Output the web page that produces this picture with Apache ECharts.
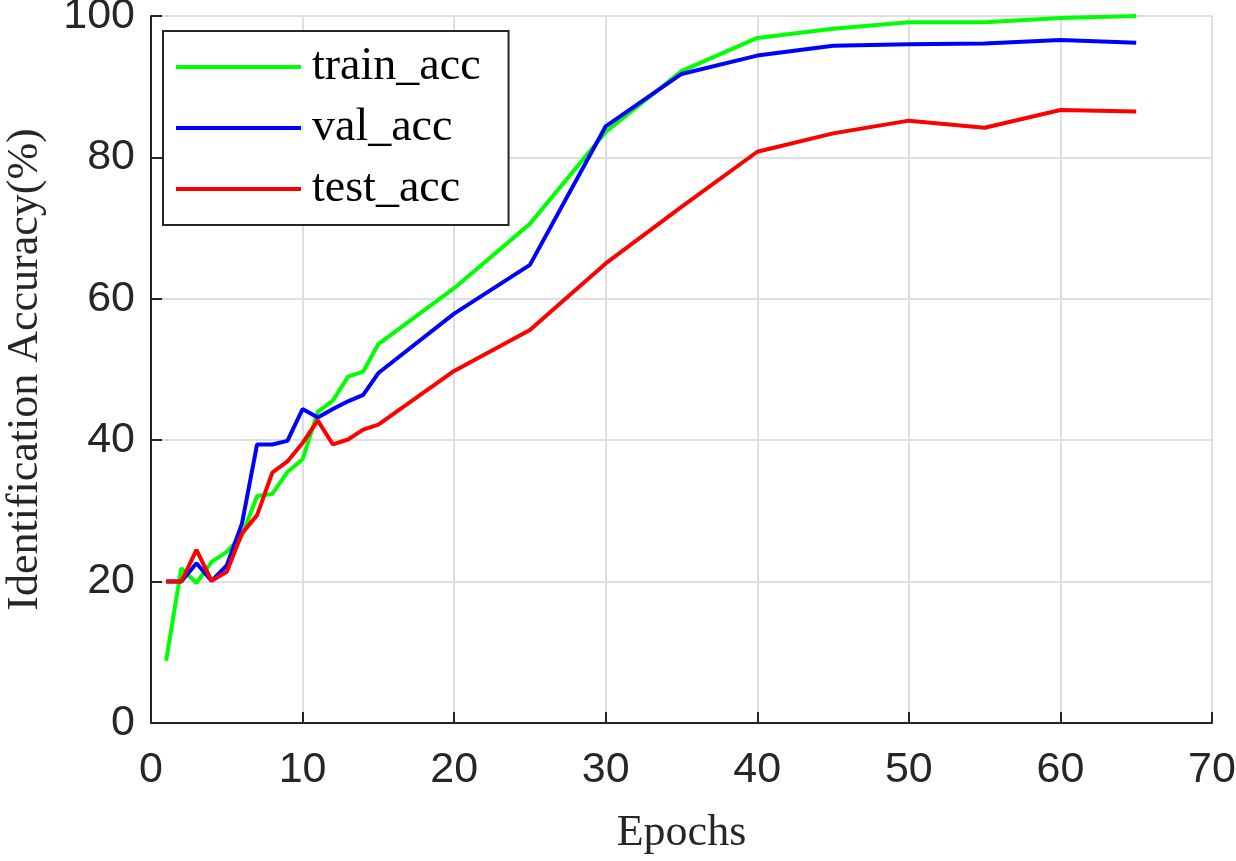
<!DOCTYPE html>
<html>
<head>
<meta charset="utf-8">
<script src="https://cdn.jsdelivr.net/npm/echarts@6/dist/echarts.min.js"></script>
<style>
  html, body { margin: 0; padding: 0; background: #fff; }
  #main { width: 1236px; height: 861px; }
</style>
</head>
<body>
<div id="main"></div>
<script>
// data
var epochs = [1, 2, 3, 4, 5, 6, 7, 8, 9, 10, 11, 12, 13, 14, 15, 20, 25, 30, 35, 40, 45, 50, 55, 60, 65];
var trainAcc = [8.8, 21.9, 19.8, 22.8, 24.2, 26.5, 32.1, 32.4, 35.5, 37.3, 44.0, 45.6, 49.0, 49.7, 53.6, 61.5, 70.6, 83.6, 92.2, 96.9, 98.2, 99.1, 99.1, 99.7, 100];
var valAcc = [20, 20, 22.6, 20.1, 22.3, 28.2, 39.4, 39.4, 39.9, 44.4, 43.2, 44.4, 45.5, 46.4, 49.5, 57.9, 64.8, 84.4, 91.8, 94.4, 95.8, 96.0, 96.1, 96.6, 96.2];
var testAcc = [20, 20, 24.5, 20.1, 21.4, 26.8, 29.4, 35.4, 37.0, 39.6, 42.8, 39.4, 40.1, 41.5, 42.2, 49.8, 55.6, 65.0, 73.0, 80.8, 83.4, 85.2, 84.2, 86.7, 86.5];
var seriesNames = ['train_acc', 'val_acc', 'test_acc'];
var xTicks = { min: 0, max: 70, interval: 10 };
var yTicks = { min: 0, max: 100, interval: 20 };

function pairs(ys) {
    return epochs.map(function (x, i) { return [x, ys[i]]; });
}

var myChart = echarts.init(document.getElementById('main'));

var axisCommon = {
    axisLine: { lineStyle: { color: '#262626', width: 2 } },
    axisTick: { inside: true, length: 11, lineStyle: { color: '#262626', width: 2 } },
    splitLine: { show: true, lineStyle: { color: '#dfdfdf', width: 2 } },
    axisLabel: { color: '#262626', fontSize: 43, fontFamily: 'Liberation Sans' },
    nameTextStyle: { color: '#262626', fontSize: 44, fontFamily: 'Liberation Serif' }
};

var option = {
    animation: false,
    grid: { left: 151, right: 24, top: 16, bottom: 138, containLabel: false, outerBoundsMode: 'none' },
    legend: {
        orient: 'vertical',
        left: 163,
        top: 31,
        data: seriesNames,
        icon: 'rect',
        itemWidth: 125,
        itemHeight: 4,
        itemGap: 15,
        padding: [13, 28, 13, 13],
        borderColor: '#262626',
        borderWidth: 2,
        backgroundColor: '#fff',
        textStyle: { color: '#000', fontSize: 46, lineHeight: 44, fontFamily: 'Liberation Serif', padding: [0, 0, 0, 6] }
    },
    xAxis: echarts.util.merge({
        type: 'value',
        min: xTicks.min, max: xTicks.max, interval: xTicks.interval,
        name: 'Epochs',
        nameLocation: 'middle',
        nameGap: 88
    }, axisCommon, true),
    yAxis: echarts.util.merge({
        type: 'value',
        min: yTicks.min, max: yTicks.max, interval: yTicks.interval,
        name: 'Identification Accuracy(%)',
        nameLocation: 'middle',
        nameGap: 104
    }, axisCommon, true),
    series: [
        { name: seriesNames[0], type: 'line', data: pairs(trainAcc), showSymbol: false, color: '#00ff00', lineStyle: { width: 4 } },
        { name: seriesNames[1], type: 'line', data: pairs(valAcc), showSymbol: false, color: '#0000ff', lineStyle: { width: 4 } },
        { name: seriesNames[2], type: 'line', data: pairs(testAcc), showSymbol: false, color: '#ff0000', lineStyle: { width: 4 } }
    ]
};
option.xAxis.axisLabel.margin = 26;
option.yAxis.axisLabel.margin = 16;

myChart.setOption(option);
</script>
</body>
</html>
